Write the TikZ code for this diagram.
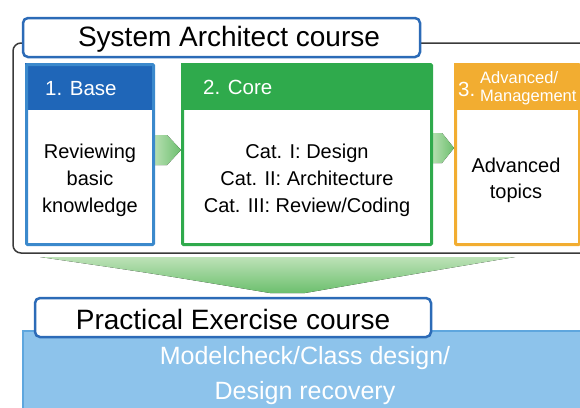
\documentclass[tikz,border=0pt]{standalone}
\usepackage{fontspec}
\setmainfont{Liberation Sans}
\definecolor{hdrblue}{HTML}{1F66B8}
\definecolor{bordblue}{HTML}{3B89CC}
\definecolor{hdrgreen}{HTML}{2FAA4C}
\definecolor{hdrorange}{HTML}{F2AD31}
\definecolor{titleblue}{HTML}{2C6BB7}
\definecolor{pale}{HTML}{8DC3EB}
\definecolor{paleedge}{HTML}{5EA6DE}
\definecolor{arrowgreen}{HTML}{6CBF6E}
\definecolor{arrowlight}{HTML}{BDE2B7}
\definecolor{framegray}{HTML}{3A3A3A}
\tikzset{
  hdr/.style={anchor=north west, inner sep=0pt, minimum height=47},
  boxframe/.style={anchor=north west, inner sep=0pt, minimum height=180, line width=3pt, rounded corners=1pt},
  bodytext/.style={align=center, font=\fontsize{20}{27}\selectfont, inner sep=0pt},
  hdrtext/.style={anchor=west, text=white, font=\fontsize{20.5}{24}\selectfont, inner sep=0pt},
  labelbox/.style={draw=titleblue, line width=2.5pt, fill=white, rounded corners=5pt, minimum height=39, inner sep=0pt},
  bigtext/.style={font=\fontsize{28}{32}\selectfont, inner sep=0pt},
  flowarrow/.style={left color=arrowlight, right color=arrowgreen}
}
\begin{document}
\begin{tikzpicture}[x=1pt,y=-1pt]
\useasboundingbox (0,0) rectangle (580,407);
\clip (0,0) rectangle (580,407);
% big downward arrow
\fill[top color=arrowlight, bottom color=arrowgreen] (40,257) -- (515,257) .. controls (420,273) .. (305,293) -- (270,293) .. controls (150,273) .. (40,257) -- cycle;
% outer frame
\draw[framegray, line width=1.5pt, rounded corners=8pt] (600,43) -- (13,43) -- (13,253) -- (600,253);
% flow arrows between boxes
\fill[flowarrow] (152,135) -- (167,135) -- (181,150) -- (167,165) -- (152,165) -- cycle;
\fill[flowarrow] (430,133) -- (442,133) -- (454,148) -- (442,163) -- (430,163) -- cycle;
% box 1
\node[hdr, fill=hdrblue, minimum width=127] (h1) at (25,63) {};
\node[boxframe, draw=bordblue, minimum width=127] (b1) at (25,63) {};
\node[hdrtext] (t1) at (45,89) {1. Base};
\node[bodytext] (c1) at (b1.center |- 0,180) {Reviewing\\basic\\knowledge};
% box 2
\node[hdr, fill=hdrgreen, minimum width=249] (h2) at (181,63) {};
\node[boxframe, draw=hdrgreen, minimum width=249] (b2) at (181,63) {};
\node[hdrtext] (t2) at (203,87) {2. Core};
\node[bodytext] (c2) at (b2.center |- 0,180) {Cat. I: Design\\Cat. II: Architecture\\Cat. III: Review/Coding};
% box 3
\node[hdr, fill=hdrorange, minimum width=124] (h3) at (454,63) {};
\node[boxframe, draw=hdrorange, minimum width=124] (b3) at (454,63) {};
\node[hdrtext] (t3) at (458,89) {3.};
\node[anchor=west, text=white, align=left, inner sep=0pt, font=\fontsize{16.5}{18}\selectfont] (t3b) at (480,88) {Advanced/\\Management};
\node[align=center, font=\fontsize{20}{26}\selectfont, inner sep=0pt] (c3) at (516,180) {Advanced\\topics};
% title
\node[labelbox, minimum width=397] (title) at (221.5,37.5) {};
\node[bigtext] (titletext) at (229,39) {System Architect course};
% practical exercise
\node[fill=pale, draw=paleedge, line width=1.5pt, anchor=north west, minimum width=570, minimum height=90, inner sep=0pt] (pe) at (22,330) {};
\node[labelbox, minimum width=396] (petitle) at (233,317.5) {};
\node[bigtext] (petext) at (233,319) {Practical Exercise course};
\node[align=center, text=white, inner sep=0pt, font=\fontsize{25}{35}\selectfont] (pebody) at (305,376) {Modelcheck/Class design/\\Design recovery};
\end{tikzpicture}
\end{document}
